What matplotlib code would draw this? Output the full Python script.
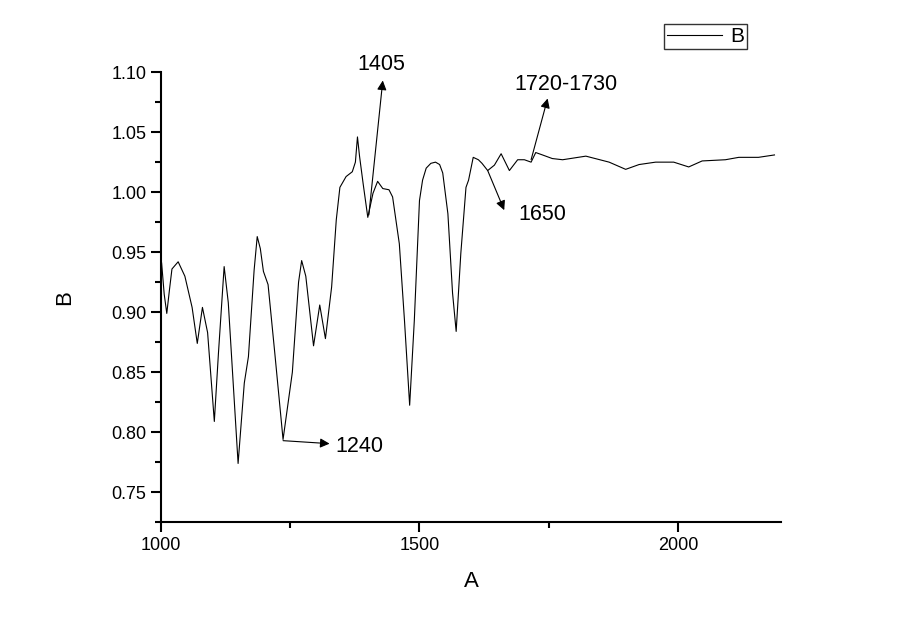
import matplotlib
matplotlib.use("Agg")
import matplotlib.pyplot as plt
from matplotlib.ticker import MultipleLocator

plt.rcParams['font.family'] = ['Liberation Sans', 'DejaVu Sans']

# ---------------- data ----------------
wavenumber = [1001, 1006, 1011, 1016, 1021, 1033, 1046, 1060, 1070, 1080,
              1090, 1103, 1111, 1122, 1130, 1149, 1161, 1169, 1180, 1186,
              1192, 1198, 1207, 1220, 1236, 1254, 1266, 1272, 1280, 1295,
              1307, 1318, 1330, 1339, 1346, 1358, 1370, 1376, 1380, 1384,
              1391, 1400, 1410, 1419, 1429, 1441, 1448, 1461, 1471, 1481,
              1490, 1500, 1506, 1513, 1522, 1531, 1539, 1545, 1555, 1564,
              1571, 1580, 1590, 1595, 1604, 1614, 1621, 1632, 1645, 1658,
              1674, 1690, 1703, 1716, 1725, 1738, 1757, 1777, 1822, 1867,
              1899, 1925, 1957, 1992, 2021, 2047, 2092, 2118, 2156, 2187]
signal = [0.941, 0.915, 0.899, 0.918, 0.936, 0.942, 0.930, 0.904, 0.874, 0.904,
          0.883, 0.809, 0.866, 0.938, 0.908, 0.774, 0.841, 0.863, 0.935, 0.963,
          0.953, 0.934, 0.923, 0.866, 0.794, 0.850, 0.925, 0.943, 0.930, 0.872,
          0.906, 0.878, 0.921, 0.977, 1.004, 1.013, 1.017, 1.025, 1.046, 1.030,
          1.007, 0.979, 0.999, 1.009, 1.003, 1.002, 0.996, 0.957, 0.893, 0.8225,
          0.893, 0.993, 1.010, 1.020, 1.024, 1.025, 1.023, 1.016, 0.982, 0.916,
          0.884, 0.949, 1.004, 1.010, 1.029, 1.027, 1.024, 1.018, 1.0225, 1.032,
          1.018, 1.027, 1.027, 1.025, 1.033, 1.031, 1.028, 1.027, 1.030, 1.025,
          1.019, 1.023, 1.025, 1.025, 1.021, 1.026, 1.027, 1.029, 1.029, 1.031]

# annotations: label, arrow tail (on curve), arrow head, text position, alignment
peak_labels = ["1240", "1405", "1650", "1720-1730"]
arrow_tail = [(1236, 0.793), (1402, 0.981), (1632, 1.018), (1716, 1.027)]
arrow_head = [(1326, 0.7905), (1429, 1.093), (1664, 0.985), (1748, 1.078)]
text_pos = [(1338, 0.7885), (1426, 1.106), (1692, 0.981), (1783, 1.090)]
text_ha = ["left", "center", "left", "center"]

# ---------------- figure ----------------
fig = plt.figure(figsize=(9, 6.27), dpi=100)
ax = fig.add_axes([0.179, 0.167, 0.689, 0.718])

ax.plot(wavenumber, signal, color="black", linewidth=0.8, label="B")

ax.set_xlim(1000, 2200)
ax.set_ylim(0.725, 1.10)

ax.xaxis.set_major_locator(MultipleLocator(500))
ax.xaxis.set_minor_locator(MultipleLocator(250))
ax.yaxis.set_major_locator(MultipleLocator(0.05))
ax.yaxis.set_minor_locator(MultipleLocator(0.025))
ax.yaxis.set_major_formatter(matplotlib.ticker.FormatStrFormatter("%.2f"))

# Origin style axes
for side in ["top", "right"]:
    ax.spines[side].set_visible(False)
for side in ["left", "bottom"]:
    ax.spines[side].set_linewidth(1.5)
ax.tick_params(which="major", direction="out", length=7, width=1.5, labelsize=13)
ax.tick_params(which="minor", direction="out", length=4, width=1.5)

ax.set_xlabel("A", fontsize=16, labelpad=12)
ax.set_ylabel("B", fontsize=16, labelpad=26)

for lab, tail, head, pos, ha in zip(peak_labels, arrow_tail, arrow_head, text_pos, text_ha):
    ax.annotate("", xy=head, xytext=tail,
                arrowprops=dict(arrowstyle="-|>", color="black", lw=0.8,
                                mutation_scale=14, shrinkA=0, shrinkB=0))
    ax.text(pos[0], pos[1], lab, fontsize=15.5, ha=ha, va="center", clip_on=False)

fig.legend(loc="upper right", bbox_to_anchor=(0.83, 0.962), fontsize=15,
           frameon=True, fancybox=False, edgecolor="black", handlelength=2.6,
           borderpad=0.15, handletextpad=0.4, borderaxespad=0.0)

fig.savefig("out.png", dpi=100)
